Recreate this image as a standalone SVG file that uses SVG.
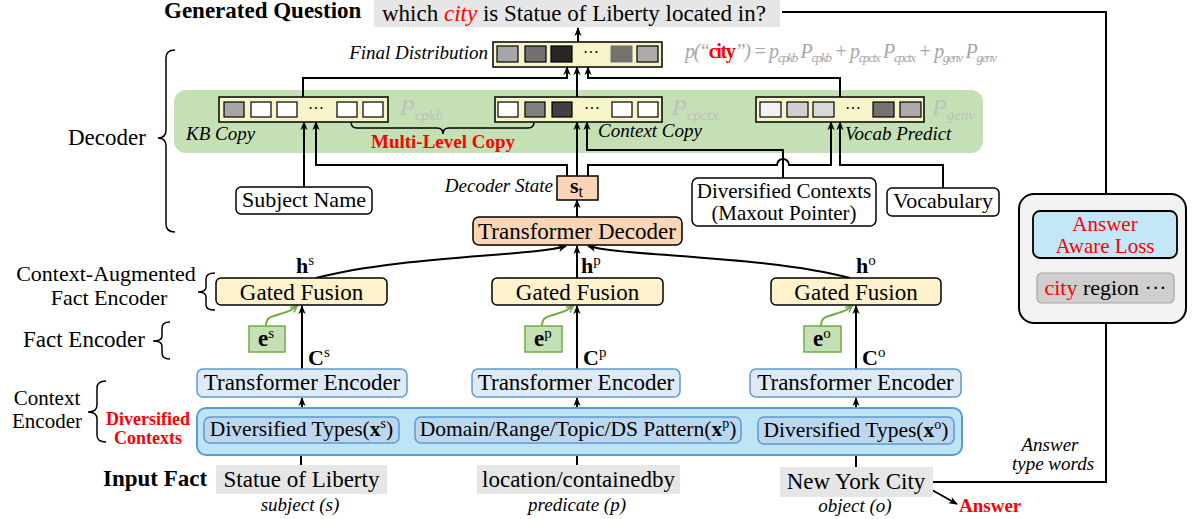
<svg xmlns="http://www.w3.org/2000/svg" width="1192" height="519" viewBox="0 0 1192 519">
<defs>
<style>
text{font-family:"Liberation Serif","Times New Roman",serif;fill:#000}
.i{font-style:italic}
.b{font-weight:bold}
.red{fill:#ff0000}
.lbl{font-size:23px}
.il{font-size:19px;font-style:italic}
.gray{fill:#e7e6e6}
.band{fill:#c5e0b4}
.dist{fill:#f6f4c8;stroke:#000;stroke-width:1.5}
.cell{stroke:#000;stroke-width:1.2}
.gf{fill:#fff2cc;stroke:#000;stroke-width:1.5}
.te{fill:#deebf7;stroke:#5b9bd5;stroke-width:1.5}
.dt{fill:#bdd7ee;stroke:#5b9bd5;stroke-width:1.5}
.eb{fill:#c5e0b4;stroke:#70ad47;stroke-width:1.5}
.wb{fill:#fff;stroke:#000;stroke-width:1.5}
.pk{fill:#fbd5b5;stroke:#000;stroke-width:1.5}
.ln{fill:none;stroke:#000;stroke-width:2}
.ar{fill:none;stroke:#000;stroke-width:2;marker-end:url(#ah)}
.gr{fill:none;stroke:#70ad47;stroke-width:2;marker-end:url(#gh)}
.br{fill:none;stroke:#000;stroke-width:1.5}
.pl{fill:#bfbfbf;font-style:italic}
.fm{fill:#a6a6a6}
</style>
<marker id="ah" viewBox="0 0 10 10" refX="9" refY="5" markerWidth="9" markerHeight="9" markerUnits="userSpaceOnUse" orient="auto">
<path d="M0,1 L10,5 L0,9 L3,5 z" fill="#000"/>
</marker>
<marker id="gh" viewBox="0 0 10 10" refX="9" refY="5" markerWidth="8" markerHeight="8" markerUnits="userSpaceOnUse" orient="auto">
<path d="M1,1 L9,5 L1,9" fill="none" stroke="#70ad47" stroke-width="2"/>
</marker>
</defs>

<!-- Left side labels and braces -->
<g id="side-labels">
<text x="164" y="18" class="b lbl">Generated Question</text>
<text x="68" y="145" class="lbl">Decoder</text>
<path class="br" d="M175,50 Q166,50 166,58 L166,130 Q166,138 158,138 Q166,138 166,146 L166,224 Q166,232 175,232"/>
<text x="106" y="281" font-size="22" text-anchor="middle">Context-Augmented</text>
<text x="109" y="305" font-size="22" text-anchor="middle">Fact Encoder</text>
<path class="br" d="M215,273 Q206,273 206,279 L206,287 Q206,292 198,292 Q206,292 206,297 L206,305 Q206,310 215,310"/>
<text x="23" y="347" class="lbl">Fact Encoder</text>
<path class="br" d="M170,322 Q162,322 162,328 L162,336 Q162,341 153,341 Q162,341 162,346 L162,353 Q162,359 170,359"/>
<text x="47" y="405" font-size="21" text-anchor="middle">Context</text>
<text x="47" y="428" font-size="21" text-anchor="middle">Encoder</text>
<path class="br" d="M106,381 Q97,381 97,388 L97,405 Q97,412 88,412 Q97,412 97,419 L97,435 Q97,442 106,442"/>
<text x="148" y="425" class="b red" font-size="18" text-anchor="middle">Diversified</text>
<text x="148" y="444" class="b red" font-size="18" text-anchor="middle">Contexts</text>
<text x="103" y="486" class="b lbl">Input Fact</text>
</g>

<!-- Generated question -->
<g id="question">
<rect x="374" y="0" width="406" height="27" class="gray"/>
<text x="382" y="21" class="lbl">which <tspan class="i red">city</tspan> is Statue of Liberty located in?</text>
</g>

<!-- Decoder band -->
<g id="decoder-band">
<rect x="174" y="90" width="809" height="63" rx="12" class="band"/>
<text x="186" y="140" class="il">KB Copy</text>
<text x="598" y="137" class="il">Context Copy</text>
<text x="845" y="140" class="il">Vocab Predict</text>
<path class="br" d="M351,122 Q351,128 357,128 L437,128 Q443,128 443,134 Q443,128 449,128 L528,128 Q534,128 534,122"/>
<text x="443" y="148" class="b red" font-size="19" text-anchor="middle">Multi-Level Copy</text>
</g>

<!-- Connectors -->
<g id="connectors">
<path class="ar" d="M578,42 L578,28"/>
<path class="ar" d="M303,97 L303,78 L567,78 L567,67"/>
<path class="ar" d="M577,97 L577,67"/>
<path class="ar" d="M840,97 L840,78 L588,78 L588,67"/>
<path class="ar" d="M304,187 L304,122"/>
<path class="ar" d="M567,176 L567,165 L316,165 L316,122"/>
<path class="ar" d="M577,176 L577,122"/>
<path class="ar" d="M588,176 L588,165 L777,165 A6,6 0 0 1 789,165 L831,165 L831,122"/>
<path class="ar" d="M783,178 L783,150 L587,150 L587,122"/>
<path class="ar" d="M943,188 L943,165 L840,165 L840,122"/>
<path class="ar" d="M577,217 L577,200"/>
<path class="ar" d="M316,278 C400,256 535,256 566,246"/>
<path class="ar" d="M577,278 L577,246"/>
<path class="ar" d="M850,278 C770,256 620,256 588,246"/>
<path class="ar" d="M302,369 L302,306"/>
<path class="ar" d="M577,369 L577,306"/>
<path class="ar" d="M856,369 L856,306"/>
<path class="ar" d="M302,417 L302,398"/>
<path class="ar" d="M577,417 L577,398"/>
<path class="ar" d="M856,417 L856,398"/>
<path class="ar" d="M301,465 L301,444"/>
<path class="ar" d="M577,465 L577,444"/>
<path class="ar" d="M856,467 L856,446"/>
<path class="ar" d="M782,12 L1106,12 L1106,211"/>
<path class="ar" d="M933,482 L1106,482 L1106,304"/>
<path class="ar" d="M1106,273 L1106,259"/>
<path class="ar" d="M932,490 L957,504"/>
<path class="gr" d="M266,326 C266,316 272,317 280,314 C290,311 292,310 297,306"/>
<path class="gr" d="M542,326 C542,316 548,317 556,314 C566,311 568,310 573,306"/>
<path class="gr" d="M821,326 C821,316 827,317 835,314 C845,311 847,310 852,306"/>
</g>

<!-- Final distribution -->
<g id="final-distribution">
<text x="488" y="59" class="il" text-anchor="end">Final Distribution</text>
<rect x="493" y="42" width="169" height="25" class="dist"/>
<rect x="497" y="46" width="21" height="16" class="cell" fill="#a6a6a6"/>
<rect x="525" y="46" width="21" height="16" class="cell" fill="#757070"/>
<rect x="551" y="46" width="21" height="16" class="cell" fill="#262626"/>
<text x="591" y="58" font-size="16" text-anchor="middle">···</text>
<rect x="611" y="46" width="21" height="16" fill="#767171" stroke="#767171"/>
<rect x="637" y="46" width="21" height="16" class="cell" fill="#aeaaaa"/>
<text x="685" y="58" font-size="20" class="i fm" textLength="312" lengthAdjust="spacing"><tspan class="fm">p(“</tspan><tspan class="b red" font-style="normal">city</tspan><tspan class="fm">”) = p</tspan><tspan class="fm" font-size="13" dy="4">cpkb</tspan><tspan class="fm" dy="-4"> P</tspan><tspan class="fm" font-size="13" dy="4">cpkb</tspan><tspan class="fm" dy="-4"> + p</tspan><tspan class="fm" font-size="13" dy="4">cpctx</tspan><tspan class="fm" dy="-4"> P</tspan><tspan class="fm" font-size="13" dy="4">cpctx</tspan><tspan class="fm" dy="-4"> + p</tspan><tspan class="fm" font-size="13" dy="4">genv</tspan><tspan class="fm" dy="-4"> P</tspan><tspan class="fm" font-size="13" dy="4">genv</tspan></text>
</g>

<!-- KB Copy -->
<g id="kb-copy">
<rect x="219" y="97" width="169" height="25" class="dist"/>
<rect x="224" y="102" width="20" height="15" class="cell" fill="#a6a6a6"/>
<rect x="251" y="102" width="20" height="15" class="cell" fill="#fff"/>
<rect x="277" y="102" width="20" height="15" class="cell" fill="#fff"/>
<text x="316" y="114" font-size="16" text-anchor="middle">···</text>
<rect x="337" y="102" width="20" height="15" class="cell" fill="#fff"/>
<rect x="363" y="102" width="20" height="15" class="cell" fill="#fff"/>
<text x="400" y="115" class="pl" font-size="24">P<tspan font-size="15" dy="5">cpkb</tspan></text>
</g>

<!-- Context Copy -->
<g id="context-copy">
<rect x="495" y="97" width="167" height="25" class="dist"/>
<rect x="498" y="102" width="20" height="15" class="cell" fill="#fff"/>
<rect x="525" y="102" width="20" height="15" class="cell" fill="#7f7f7f"/>
<rect x="552" y="102" width="20" height="15" class="cell" fill="#404040"/>
<text x="592" y="114" font-size="16" text-anchor="middle">···</text>
<rect x="612" y="102" width="20" height="15" class="cell" fill="#fff"/>
<rect x="638" y="102" width="20" height="15" class="cell" fill="#fff"/>
<text x="672" y="115" class="pl" font-size="24">P<tspan font-size="15" dy="5">cpctx</tspan></text>
</g>

<!-- Vocab Predict -->
<g id="vocab-predict">
<rect x="756" y="97" width="168" height="25" class="dist"/>
<rect x="760" y="102" width="21" height="15" class="cell" fill="#f2f2f2"/>
<rect x="787" y="102" width="21" height="15" class="cell" fill="#d0cece"/>
<rect x="813" y="102" width="21" height="15" class="cell" fill="#d9d9d9"/>
<text x="853" y="114" font-size="16" text-anchor="middle">···</text>
<rect x="873" y="102" width="21" height="15" class="cell" fill="#767171"/>
<rect x="900" y="102" width="21" height="15" class="cell" fill="#aeaaaa"/>
<text x="932" y="115" class="pl" font-size="24">P<tspan font-size="15" dy="5">genv</tspan></text>
</g>

<!-- Subject Name -->
<g id="subject-name">
<rect x="236" y="187" width="136" height="27" rx="5" class="wb"/>
<text x="304" y="207" font-size="22" text-anchor="middle">Subject Name</text>
</g>

<!-- Decoder state -->
<g id="decoder-state">
<text x="553" y="192" class="il" text-anchor="end">Decoder State</text>
<rect x="557" y="176" width="41" height="24" class="pk"/>
<text x="570" y="193" class="b" font-size="22">s<tspan font-weight="normal" font-size="16" dy="4">t</tspan></text>
</g>

<!-- Diversified Contexts (Maxout Pointer) -->
<g id="maxout-pointer">
<rect x="692" y="178" width="184" height="48" rx="6" class="wb"/>
<text x="784" y="198" font-size="21" text-anchor="middle">Diversified Contexts</text>
<text x="784" y="220" font-size="21" text-anchor="middle">(Maxout Pointer)</text>
</g>

<!-- Vocabulary -->
<g id="vocabulary">
<rect x="887" y="188" width="112" height="28" rx="5" class="wb"/>
<text x="943" y="208" font-size="22" text-anchor="middle">Vocabulary</text>
</g>

<!-- Transformer Decoder -->
<g id="transformer-decoder">
<rect x="473" y="217" width="209" height="28" rx="6" class="pk"/>
<text x="577" y="239" class="lbl" text-anchor="middle">Transformer Decoder</text>
</g>

<!-- h labels -->
<g id="h-labels">
<text x="296" y="273" class="b" font-size="22">h<tspan font-weight="normal" font-size="15" dy="-8">s</tspan></text>
<text x="581" y="273" class="b" font-size="22">h<tspan font-weight="normal" font-size="15" dy="-8">p</tspan></text>
<text x="856" y="273" class="b" font-size="22">h<tspan font-weight="normal" font-size="15" dy="-8">o</tspan></text>
</g>

<!-- Gated Fusion -->
<g id="gated-fusion-s">
<rect x="216" y="278" width="171" height="27" rx="5" class="gf"/>
<text x="301.5" y="300" class="lbl" text-anchor="middle">Gated Fusion</text>
</g>
<g id="gated-fusion-p">
<rect x="492" y="278" width="171" height="27" rx="5" class="gf"/>
<text x="577.5" y="300" class="lbl" text-anchor="middle">Gated Fusion</text>
</g>
<g id="gated-fusion-o">
<rect x="771" y="278" width="170" height="27" rx="5" class="gf"/>
<text x="856" y="300" class="lbl" text-anchor="middle">Gated Fusion</text>
</g>

<!-- embeddings -->
<g id="e-s">
<rect x="249" y="326" width="36" height="26" class="eb"/>
<text x="258" y="346" class="b" font-size="23">e<tspan font-weight="normal" font-size="15" dy="-8">s</tspan></text>
</g>
<g id="e-p">
<rect x="525" y="326" width="37" height="26" class="eb"/>
<text x="534" y="346" class="b" font-size="23">e<tspan font-weight="normal" font-size="15" dy="-8">p</tspan></text>
</g>
<g id="e-o">
<rect x="804" y="326" width="37" height="26" class="eb"/>
<text x="813" y="346" class="b" font-size="23">e<tspan font-weight="normal" font-size="15" dy="-8">o</tspan></text>
</g>

<!-- C labels -->
<g id="c-labels">
<text x="308" y="365" class="b" font-size="22">C<tspan font-weight="normal" font-size="15" dy="-8">s</tspan></text>
<text x="583" y="365" class="b" font-size="22">C<tspan font-weight="normal" font-size="15" dy="-8">p</tspan></text>
<text x="862" y="365" class="b" font-size="22">C<tspan font-weight="normal" font-size="15" dy="-8">o</tspan></text>
</g>

<!-- Transformer Encoders -->
<g id="transformer-encoder-s">
<rect x="197" y="369" width="210" height="28" rx="6" class="te"/>
<text x="302" y="390" class="lbl" text-anchor="middle">Transformer Encoder</text>
</g>
<g id="transformer-encoder-p">
<rect x="472" y="369" width="208" height="28" rx="6" class="te"/>
<text x="576" y="390" class="lbl" text-anchor="middle">Transformer Encoder</text>
</g>
<g id="transformer-encoder-o">
<rect x="750" y="369" width="211" height="28" rx="6" class="te"/>
<text x="855.5" y="390" class="lbl" text-anchor="middle">Transformer Encoder</text>
</g>

<!-- Diversified contexts -->
<g id="diversified-contexts">
<rect x="197" y="408" width="765" height="47" rx="9" fill="#bfe4f6" stroke="#5b9bd5" stroke-width="2"/>
</g>
<g id="types-s">
<rect x="204" y="417" width="195" height="26" rx="6" class="dt"/>
<text x="301.5" y="436" font-size="21.5" text-anchor="middle">Diversified Types(<tspan class="b">x</tspan><tspan font-size="14" dy="-8">s</tspan><tspan dy="8">)</tspan></text>
</g>
<g id="pattern-p">
<rect x="415" y="417" width="326" height="26" rx="6" class="dt"/>
<text x="578" y="436" font-size="21.5" text-anchor="middle">Domain/Range/Topic/DS Pattern(<tspan class="b">x</tspan><tspan font-size="14" dy="-8">p</tspan><tspan dy="8">)</tspan></text>
</g>
<g id="types-o">
<rect x="758" y="417" width="196" height="27" rx="6" class="dt"/>
<text x="856" y="437" font-size="21.5" text-anchor="middle">Diversified Types(<tspan class="b">x</tspan><tspan font-size="14" dy="-8">o</tspan><tspan dy="8">)</tspan></text>
</g>

<!-- Input fact -->
<g id="subject">
<rect x="216" y="465" width="171" height="29" class="gray"/>
<text x="301.5" y="487" class="lbl" text-anchor="middle">Statue of Liberty</text>
<text x="300" y="511" class="il" text-anchor="middle">subject (s)</text>
</g>
<g id="predicate">
<rect x="477" y="465" width="203" height="29" class="gray"/>
<text x="578.5" y="487" class="lbl" text-anchor="middle">location/containedby</text>
<text x="577" y="511" class="il" text-anchor="middle">predicate (p)</text>
</g>
<g id="object">
<rect x="780" y="467" width="153" height="30" class="gray"/>
<text x="856" y="489" class="lbl" text-anchor="middle">New York City</text>
<text x="855" y="512" class="il" text-anchor="middle">object (o)</text>
</g>
<g id="answer">
<text x="959" y="512" class="b red" font-size="19">Answer</text>
<text x="1050" y="451" class="il" text-anchor="middle">Answer</text>
<text x="1053" y="470" class="il" text-anchor="middle">type words</text>
</g>

<!-- Answer aware loss -->
<g id="answer-aware-module">
<rect x="1019" y="194" width="167" height="129" rx="15" fill="#f2f2f2" stroke="#000" stroke-width="2"/>
</g>
<g id="answer-aware-loss">
<rect x="1033" y="211" width="144" height="47" rx="7" fill="#c3e7f7" stroke="#000" stroke-width="1.8"/>
<text x="1105" y="231" class="red" font-size="21" text-anchor="middle">Answer</text>
<text x="1105" y="253" class="red" font-size="21" text-anchor="middle">Aware Loss</text>
</g>
<g id="city-region">
<rect x="1037" y="273" width="137" height="30" rx="5" fill="#d0cece" stroke="#a6a6a6" stroke-width="1.2"/>
<text x="1105.5" y="295" font-size="22" text-anchor="middle"><tspan class="red">city</tspan> region ···</text>
</g>
</svg>
